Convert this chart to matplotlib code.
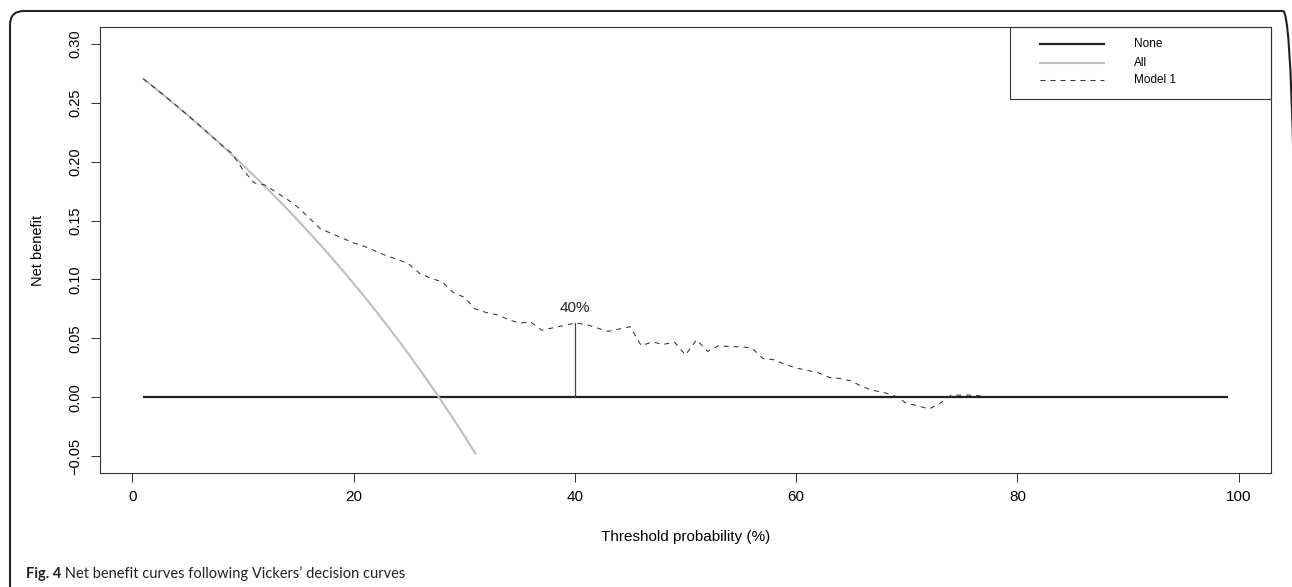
import matplotlib
matplotlib.use("Agg")
import matplotlib.pyplot as plt
from matplotlib.lines import Line2D
from matplotlib.patches import Rectangle, FancyBboxPatch
from matplotlib.text import Annotation
from matplotlib.transforms import IdentityTransform

plt.rcParams['font.family'] = ['Liberation Sans', 'DejaVu Sans']

# threshold probability (%) and net benefit
none_x = [1, 99]
none_y = [0.0, 0.0]

all_x = list(range(1, 32))
all_y = [0.2700, 0.2626, 0.2550, 0.2472, 0.2393, 0.2312, 0.2229, 0.2145,
         0.2058, 0.1970, 0.1880, 0.1788, 0.1693, 0.1597, 0.1498, 0.1396,
         0.1293, 0.1187, 0.1078, 0.0966, 0.0852, 0.0735, 0.0614, 0.0491,
         0.0364, 0.0234, 0.0100, -0.0038, -0.0179, -0.0324, -0.0474]

model_x = list(range(1, 78))
model_y = [0.270, 0.2626, 0.255, 0.2472, 0.2393, 0.2312, 0.2229, 0.2145,
           0.207, 0.193, 0.182, 0.180, 0.174, 0.168, 0.161, 0.152,
           0.143, 0.139, 0.135, 0.131, 0.128, 0.124, 0.120, 0.117,
           0.113, 0.105, 0.101, 0.098, 0.089, 0.085, 0.075, 0.072,
           0.070, 0.066, 0.063, 0.064, 0.057, 0.059, 0.061, 0.063,
           0.062, 0.059, 0.056, 0.058, 0.060, 0.044, 0.047, 0.045,
           0.047, 0.036, 0.049, 0.039, 0.044, 0.043, 0.043, 0.042,
           0.033, 0.032, 0.028, 0.025, 0.023, 0.021, 0.017, 0.016,
           0.014, 0.009, 0.006, 0.004, 0.001, -0.005, -0.007, -0.0098,
           -0.005, 0.002, 0.002, 0.002, 0.001]

mark_x = 40
mark_label = "40%"

xticks = [0, 20, 40, 60, 80, 100]
yticks = [-0.05, 0.00, 0.05, 0.10, 0.15, 0.20, 0.25, 0.30]
legend_labels = ["None", "All", "Model 1"]

fig = plt.figure(figsize=(12.92, 5.87), dpi=100)
ax = fig.add_axes([100 / 1292, 114 / 587, 1171 / 1292, 446 / 587])

ax.plot(none_x, none_y, color="#222222", lw=1.6, solid_capstyle="butt")
ax.plot(all_x, all_y, color="#bebebe", lw=1.5)
ax.plot(model_x, model_y, color="#333333", lw=0.75, dashes=(4.8, 4.8))

mark_y = model_y[model_x.index(mark_x)]
ax.plot([mark_x, mark_x], [0, mark_y], color="#444444", lw=0.9)
ax.annotate(mark_label, xy=(mark_x, mark_y), xytext=(0, 8), textcoords="offset points",
            ha="center", va="baseline", fontsize=11, color="#222222")

ax.set_xlim(-2.92, 102.92)
ax.set_ylim(-0.064, 0.314)
ax.set_xticks(xticks, labels=[str(t) for t in xticks])
ax.set_yticks(yticks, labels=[f"{t:.2f}".replace("-", "\u2212") for t in yticks])
ax.tick_params(axis="x", labelsize=11, length=6.5, width=0.75, pad=6, color="#333333")
ax.tick_params(axis="y", labelsize=10.5, length=6.5, width=0.75, pad=6, color="#333333",
               labelrotation=90)
for lab in ax.get_yticklabels():
    lab.set_va("center")
for sp in ax.spines.values():
    sp.set_linewidth(0.8)
    sp.set_color("#333333")

ax.set_xlabel("Threshold probability (%)", fontsize=11, va="center")
ax.xaxis.set_label_coords(0.5, (473 - 537) / 446)
ax.set_ylabel("Net benefit", fontsize=10.5, va="center")
ax.yaxis.set_label_coords((38 - 100) / 1171, 0.5)

# legend box, laid out like R's legend()
ax.add_patch(Rectangle((0.777, 0.8386), 0.223, 0.1614, transform=ax.transAxes,
                       fill=False, lw=0.8, edgecolor="#333333", clip_on=False))
styles = [dict(color="#222222", lw=1.6),
          dict(color="#bebebe", lw=1.5),
          dict(color="#333333", lw=0.75, dashes=(4.8, 4.8))]
rows = [0.9608, 0.9204, 0.8801]
for lab, st, ry in zip(legend_labels, styles, rows):
    ax.add_line(Line2D([0.8027, 0.8574], [ry, ry], transform=ax.transAxes, **st))
    ax.text(0.883, ry, lab, transform=ax.transAxes, fontsize=8.5, va="center", ha="left")

# journal figure frame (cut off at right and bottom) and caption
frame = FancyBboxPatch((10, -40), 1287, 587 - 10 + 40 - 1,
                       boxstyle="round,pad=0,rounding_size=14",
                       transform=IdentityTransform(), fill=False, lw=1.5, edgecolor="#222222")
fig.patches.append(frame)

t1 = fig.text(26 / 1292, 1 - 574 / 587, "Fig. 4", fontsize=10.5, fontweight="bold",
              family="Lato", va="center", color="#222222")
fig.add_artist(Annotation(
    " Net benefit curves following Vickers\u2019 decision curves", xy=(1, 0), xycoords=t1,
    va="bottom", ha="left", fontsize=10.5, family="Lato", color="#222222"))

fig.savefig("out.png", dpi=100)
